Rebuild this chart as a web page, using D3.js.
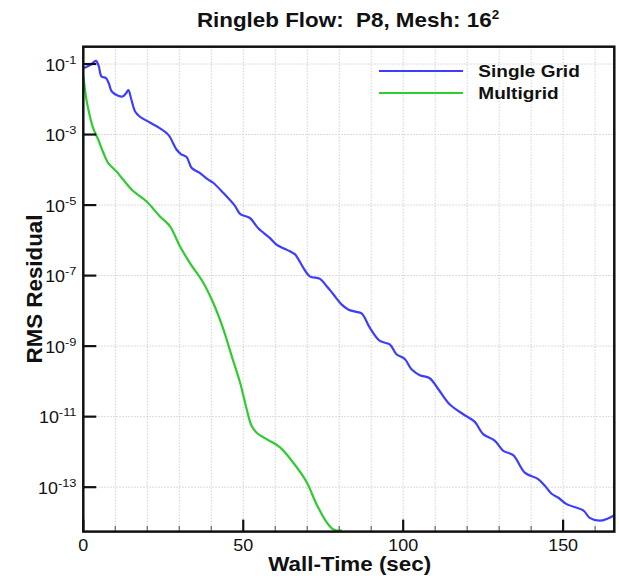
<!DOCTYPE html>
<html>
<head>
<meta charset="utf-8">
<script src="https://cdn.jsdelivr.net/npm/d3@7"></script>
<style>
  html, body { margin: 0; padding: 0; background: #fff; }
  svg { display: block; font-family: "Liberation Sans", Arial, Helvetica, sans-serif; }
  text { white-space: pre; }
</style>
</head>
<body>
<svg id="chart" width="619" height="578"></svg>
<script>
// ---- Data ----
const titleText = "Ringleb Flow:  P8, Mesh: 16";
const titleSup = "2";
const xLabel = "Wall-Time (sec)";
const yLabel = "RMS Residual";
const seriesNames = ["Single Grid", "Multigrid"];
const seriesColors = ["#3d3dff", "#2ecc2e"];

const xMajorTicks = [0, 50, 100, 150];
const xMinorTicks = [10, 20, 30, 40, 60, 70, 80, 90, 110, 120, 130, 140, 160];
const yTickExponents = [-1, -3, -5, -7, -9, -11, -13];

// Single Grid: wall time (sec) and RMS residual
const singleTime = [0, 1, 2.1, 3.2, 4.0, 4.8, 5.7, 7.1, 8.0, 8.9, 10.9, 12.3, 13.3, 14.1, 15.0, 16.2, 17.7, 20.8, 24.0, 26.6,
  29.2, 30.5, 32.3, 33.9, 36.5, 38.6, 40.6, 43.8, 47.4, 49.0, 52.1, 54.7, 58.3, 60.4, 64.6, 66.2, 68.8, 70.8, 74.0, 76.1,
  78.1, 80.8, 82.8, 85.0, 87.0, 89.6, 92.7, 95.8, 97.9, 100.5, 102.6, 105.2, 108.3, 111.0, 114.6, 118.8, 122.4, 125.0,
  128.6, 131.3, 134.4, 138.0, 142.2, 144.3, 146.4, 148.4, 151.1, 156.3, 158.3, 161.5, 164.0, 166.0];
const singleResidual = [7.6e-2, 8.3e-2, 9.3e-2, 1.12e-1, 1.23e-1, 8.9e-2, 4.4e-2, 4.0e-2, 2.8e-2, 1.66e-2, 1.26e-2, 1.2e-2,
  1.45e-2, 1.82e-2, 1.0e-2, 4.5e-3, 3.2e-3, 2.2e-3, 1.5e-3, 9.8e-4, 3.7e-4, 2.8e-4, 2.3e-4, 1.12e-4, 8.1e-5, 5.6e-5, 4.3e-5,
  2.2e-5, 9.5e-6, 5.6e-6, 4.3e-6, 2.2e-6, 1.17e-6, 7.6e-7, 4.9e-7, 4.0e-7, 1.66e-7, 9.5e-8, 8.1e-8, 5.0e-8, 3.0e-8, 1.5e-8,
  1.1e-8, 9.5e-9, 8.5e-9, 3.3e-9, 1.4e-9, 1.12e-9, 5.9e-10, 4.3e-10, 2.2e-10, 1.5e-10, 1.23e-10, 6.0e-11, 2.2e-11, 1.17e-11,
  7.1e-12, 3.2e-12, 2.1e-12, 1.07e-12, 8.1e-13, 2.6e-13, 1.7e-13, 1.1e-13, 6.5e-14, 5.1e-14, 3.3e-14, 2.2e-14, 1.35e-14,
  1.12e-14, 1.3e-14, 1.6e-14];

// Multigrid: wall time (sec) and RMS residual
const multiTime = [0, 0.5, 1.0, 2.1, 3.1, 4.7, 6.3, 7.8, 10.4, 12.5, 15.6, 19.8, 23.9, 27.1, 30.2, 33.3, 37.5, 40.6, 43.8,
  46.4, 49.0, 51.1, 52.6, 54.2, 57.3, 61.5, 65.6, 69.8, 72.9, 76.1, 77.6, 78.8, 80.8];
const multiResidual = [4.5e-2, 2.0e-2, 9.5e-3, 3.2e-3, 1.5e-3, 7.1e-4, 3.0e-4, 1.55e-4, 8.9e-5, 5.2e-5, 2.5e-5, 1.26e-5,
  4.8e-6, 2.5e-6, 6.8e-7, 2.3e-7, 6.3e-8, 1.7e-8, 3.0e-9, 5.2e-10, 9.3e-11, 1.6e-11, 5.5e-12, 3.5e-12, 2.3e-12, 1.35e-12,
  5.0e-13, 1.4e-13, 3.3e-14, 1.0e-14, 6.9e-15, 6.0e-15, 6.0e-15];

// ---- Layout ----
const svg = d3.select("#chart");
const plot = { left: 83.3, right: 614.3, top: 46.7, bottom: 531.6 };
const stretch = 1.12; // horizontal text stretch seen in the reference

const x = d3.scaleLinear().domain([0, 166]).range([plot.left, plot.right]);
const y = d3.scaleLog().domain([5.5e-15, 0.31]).range([plot.bottom, plot.top]);

// Grid
const grid = svg.append("g").attr("stroke", "#cfcfcf").attr("stroke-width", 1).attr("stroke-dasharray", "1.5,1.5");
grid.selectAll("line.vx").data(xMajorTicks.concat(xMinorTicks).filter(d => d > 0)).join("line")
  .attr("x1", d => x(d)).attr("x2", d => x(d)).attr("y1", plot.top).attr("y2", plot.bottom);
grid.selectAll("line.hy").data(yTickExponents).join("line")
  .attr("x1", plot.left).attr("x2", plot.right)
  .attr("y1", d => y(Math.pow(10, d))).attr("y2", d => y(Math.pow(10, d)));

// Clip
svg.append("clipPath").attr("id", "clip").append("rect")
  .attr("x", plot.left).attr("y", plot.top)
  .attr("width", plot.right - plot.left).attr("height", plot.bottom - plot.top);

const line = d3.line().x(d => x(d[0])).y(d => y(d[1])).curve(d3.curveCatmullRom.alpha(0.5));
const series = [
  d3.zip(singleTime, singleResidual),
  d3.zip(multiTime, multiResidual)
];
svg.append("g").attr("clip-path", "url(#clip)")
  .selectAll("path").data(series).join("path")
  .attr("d", line).attr("fill", "none")
  .attr("stroke", (d, i) => seriesColors[i])
  .attr("stroke-width", 2.2)
  .attr("stroke-linejoin", "round");

// Axes ticks (inward)
const axisG = svg.append("g").attr("stroke", "#111");
axisG.selectAll("line.xmaj").data(xMajorTicks).join("line")
  .attr("x1", d => x(d)).attr("x2", d => x(d)).attr("y1", plot.bottom).attr("y2", plot.bottom - 12)
  .attr("stroke-width", 2.2);
axisG.selectAll("line.xmin").data(xMinorTicks).join("line")
  .attr("x1", d => x(d)).attr("x2", d => x(d)).attr("y1", plot.bottom).attr("y2", plot.bottom - 5.5)
  .attr("stroke-width", 1.2).attr("stroke", "#666");
axisG.selectAll("line.ymaj").data(yTickExponents).join("line")
  .attr("x1", plot.left).attr("x2", plot.left + 13)
  .attr("y1", d => y(Math.pow(10, d))).attr("y2", d => y(Math.pow(10, d)))
  .attr("stroke-width", 2.2);

// Frame
svg.append("rect")
  .attr("x", plot.left).attr("y", plot.top)
  .attr("width", plot.right - plot.left).attr("height", plot.bottom - plot.top)
  .attr("fill", "none").attr("stroke", "#111").attr("stroke-width", 2.5);

// Helper for stretched text
function stretchedText(g, tx, ty, anchor, size, weight) {
  return g.append("text")
    .attr("transform", `translate(${tx},${ty}) scale(${stretch},1)`)
    .attr("text-anchor", anchor)
    .attr("font-size", size)
    .attr("font-weight", weight)
    .attr("fill", "#111");
}

// X tick labels
xMajorTicks.forEach(d => {
  stretchedText(svg, x(d), 550.5, "middle", 16, "normal").text(d3.format("d")(d));
});

// Y tick labels: 10^n
yTickExponents.forEach(e => {
  const t = stretchedText(svg, 76.5, y(Math.pow(10, e)) + 6.8, "end", 16, "normal");
  t.append("tspan").text("10");
  t.append("tspan").attr("font-size", 11.5).attr("dy", -7).text(String(e));
});

// Title
const title = stretchedText(svg, 348, 26.7, "middle", 20, "bold");
title.append("tspan").text(titleText);
title.append("tspan").attr("font-size", 12).attr("dy", -8).text(titleSup);

// Axis labels
stretchedText(svg, 349.7, 571, "middle", 20, "bold").text(xLabel);
svg.append("text")
  .attr("transform", "translate(42,289) rotate(-90) scale(1.04,1)")
  .attr("text-anchor", "middle").attr("font-size", 21.5).attr("font-weight", "bold")
  .attr("fill", "#111").text(yLabel);

// Legend
const legendY = [71, 93];
seriesNames.forEach((name, i) => {
  svg.append("line").attr("x1", 379).attr("x2", 463).attr("y1", legendY[i]).attr("y2", legendY[i])
    .attr("stroke", seriesColors[i]).attr("stroke-width", 2.2);
  stretchedText(svg, 478.3, legendY[i] + 5.8, "start", 17, "bold").text(name);
});
</script>
</body>
</html>
